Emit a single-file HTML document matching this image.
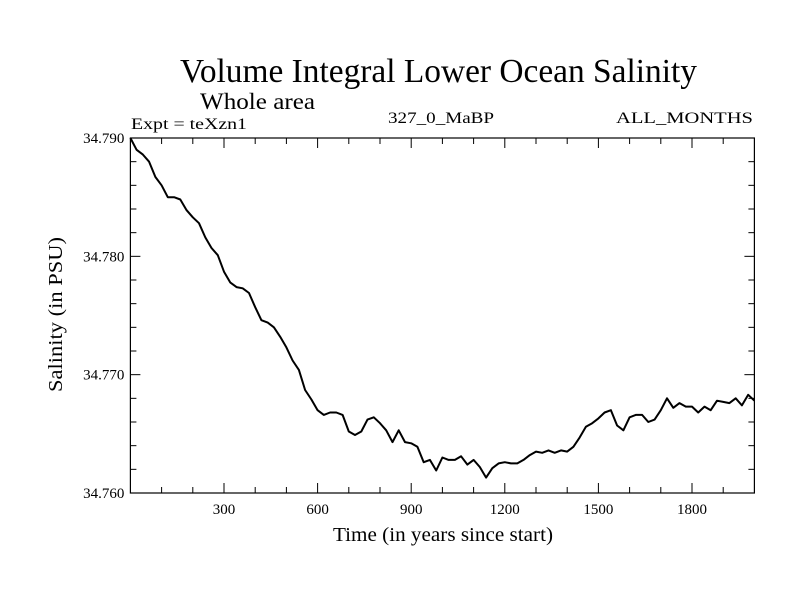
<!DOCTYPE html>
<html><head><meta charset="utf-8"><style>
html,body{margin:0;padding:0;background:#fff;}
svg{display:block;font-family:"Liberation Serif",serif;}
</style></head><body>
<svg id="chart" width="800" height="600">
<text x="180" y="82" font-size="34" textLength="517" lengthAdjust="spacingAndGlyphs">Volume Integral Lower Ocean Salinity</text>
<text x="200" y="109" font-size="23" textLength="115" lengthAdjust="spacingAndGlyphs">Whole area</text>
<text x="131" y="129" font-size="16" textLength="116" lengthAdjust="spacingAndGlyphs">Expt = teXzn1</text>
<text x="388" y="123" font-size="16" textLength="106" lengthAdjust="spacingAndGlyphs">327_0_MaBP</text>
<text x="616" y="123" font-size="16" textLength="137" lengthAdjust="spacingAndGlyphs">ALL_MONTHS</text>
<text x="333" y="541" font-size="20" textLength="220" lengthAdjust="spacingAndGlyphs">Time (in years since start)</text>
<text transform="translate(62,392) rotate(-90)" font-size="20" textLength="155" lengthAdjust="spacingAndGlyphs">Salinity (in PSU)</text>
<g id="ticks"></g>
<g id="plot"></g>
<rect x="130.4" y="138" width="624" height="355" fill="none" stroke="#000" stroke-width="1.2"/>
</svg>
<script>
const years = [0,20,40,60,80,100,120,140,160,180,200,220,240,260,280,300,320,340,360,380,400,420,440,460,480,500,520,540,560,580,600,620,640,660,680,700,720,740,760,780,800,820,840,860,880,900,920,940,960,980,1000,1020,1040,1060,1080,1100,1120,1140,1160,1180,1200,1220,1240,1260,1280,1300,1320,1340,1360,1380,1400,1420,1440,1460,1480,1500,1520,1540,1560,1580,1600,1620,1640,1660,1680,1700,1720,1740,1760,1780,1800,1820,1840,1860,1880,1900,1920,1940,1960,1980,2000];
const salinity = [34.7900,34.7890,34.7886,34.7880,34.7867,34.7860,34.7850,34.7850,34.7848,34.7839,34.7833,34.7828,34.7816,34.7807,34.7801,34.7787,34.7778,34.7774,34.7773,34.7769,34.7757,34.7746,34.7744,34.7740,34.7732,34.7723,34.7712,34.7704,34.7687,34.7679,34.7670,34.7666,34.7668,34.7668,34.7666,34.7652,34.7649,34.7652,34.7662,34.7664,34.7659,34.7653,34.7643,34.7653,34.7643,34.7642,34.7639,34.7626,34.7628,34.7619,34.7630,34.7628,34.7628,34.7631,34.7624,34.7628,34.7622,34.7613,34.7621,34.7625,34.7626,34.7625,34.7625,34.7628,34.7632,34.7635,34.7634,34.7636,34.7634,34.7636,34.7635,34.7639,34.7647,34.7656,34.7659,34.7663,34.7668,34.7670,34.7657,34.7653,34.7664,34.7666,34.7666,34.7660,34.7662,34.7670,34.7680,34.7672,34.7676,34.7673,34.7673,34.7668,34.7673,34.7670,34.7678,34.7677,34.7676,34.7680,34.7674,34.7683,34.7678];
const xTickLabels = [300,600,900,1200,1500,1800];
const yTickLabels = ["34.760","34.770","34.780","34.790"];
const X0=130.4,X1=754.4,Y0=493,Y1=138,XMIN=0,XMAX=2000,YMIN=34.760,YMAX=34.790;
const sx=v=>X0+(v-XMIN)/(XMAX-XMIN)*(X1-X0);
const sy=v=>Y0-(v-YMIN)/(YMAX-YMIN)*(Y0-Y1);
const NS='http://www.w3.org/2000/svg';
const ticks=document.getElementById('ticks');
function line(x1,y1,x2,y2,name){const l=document.createElementNS(NS,'line');
l.setAttribute('x1',x1);l.setAttribute('y1',y1);l.setAttribute('x2',x2);l.setAttribute('y2',y2);
l.setAttribute('stroke','#000');l.setAttribute('stroke-width','1');


ticks.appendChild(l);}
for(let t=100;t<XMAX;t+=100){const x=sx(t);const L=(t%300===0)?10:6;
line(x,Y0,x,Y0-L,'x-tick');line(x,Y1,x,Y1+L,'x-tick-top');}
for(let k=1;k<15;k++){const v=YMIN+k*0.002;const y=sy(v);const L=(k%5===0)?10:6;
line(X0,y,X0+L,y,'y-tick');line(X1,y,X1-L,y,'y-tick-right');}
xTickLabels.forEach(v=>{const t=document.createElementNS(NS,'text');
t.setAttribute('x',sx(v));t.setAttribute('y',Y0+21);t.setAttribute('font-size','15');t.setAttribute('text-anchor','middle');
t.textContent=v;


ticks.appendChild(t);});
yTickLabels.forEach(v=>{const t=document.createElementNS(NS,'text');
t.setAttribute('x',X0-6);t.setAttribute('y',sy(parseFloat(v))+5);t.setAttribute('font-size','15');t.setAttribute('text-anchor','end');
t.textContent=v;


ticks.appendChild(t);});
const p=document.createElementNS(NS,'polyline');
p.setAttribute('points',years.map((y,i)=>sx(y).toFixed(1)+','+sy(salinity[i]).toFixed(1)).join(' '));
p.setAttribute('fill','none');p.setAttribute('stroke','#000');p.setAttribute('stroke-width','2');p.setAttribute('stroke-linejoin','round');


document.getElementById('plot').appendChild(p);
</script>
</body></html>
